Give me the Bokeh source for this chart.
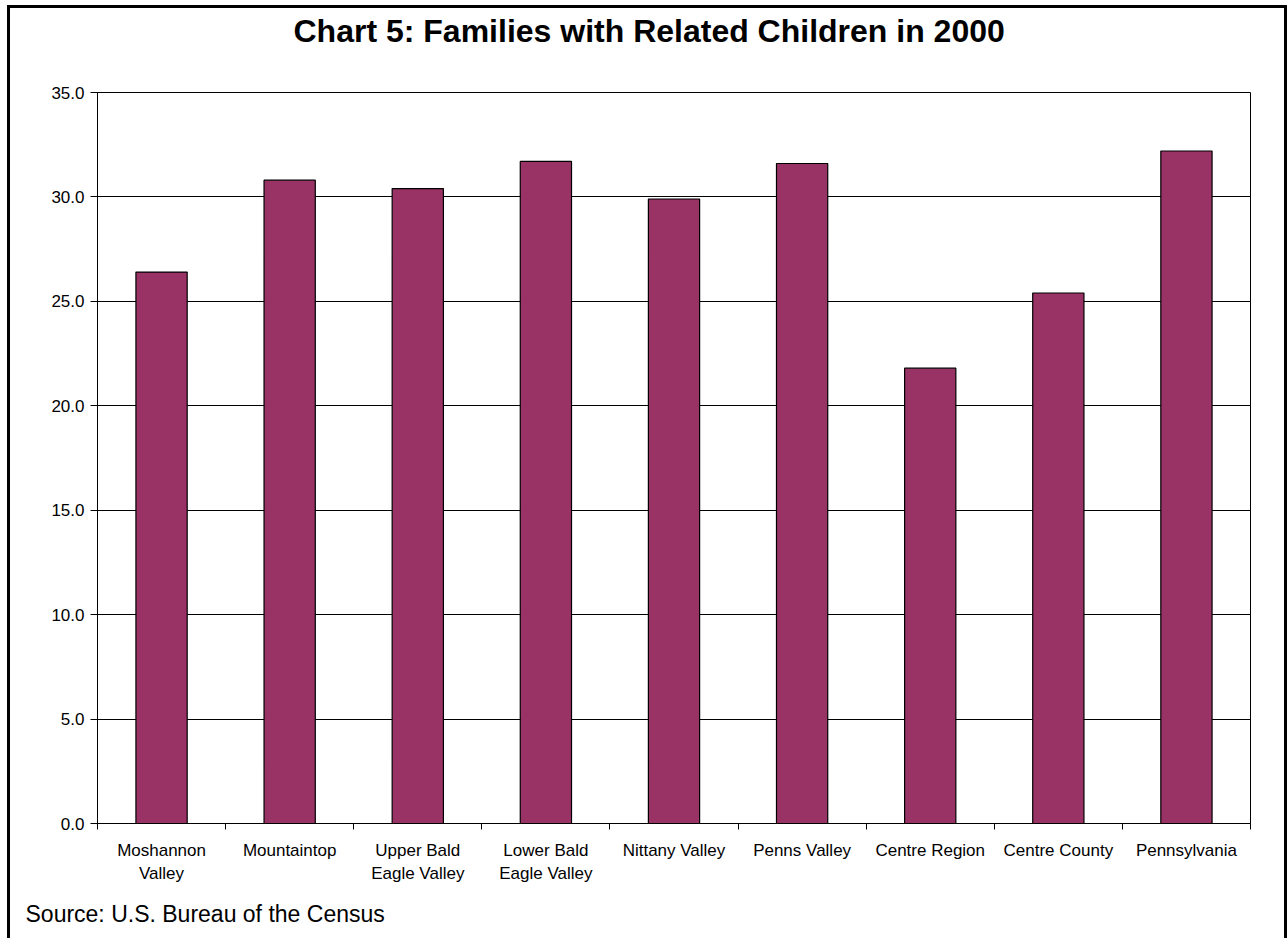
from bokeh.plotting import figure
from bokeh.models import Range1d, FixedTicker, NumeralTickFormatter, Title
from bokeh.embed import file_html
from bokeh.resources import INLINE

categories = ["Moshannon\nValley", "Mountaintop", "Upper Bald\nEagle Valley",
              "Lower Bald\nEagle Valley", "Nittany Valley", "Penns Valley",
              "Centre Region", "Centre County", "Pennsylvania"]
values = [26.4, 30.8, 30.4, 31.7, 29.9, 31.6, 21.8, 25.4, 32.2]
y_ticks = [0, 5, 10, 15, 20, 25, 30, 35]
title_text = "Chart 5: Families with Related Children in 2000"
source_text = "Source: U.S. Bureau of the Census"

FONT = "Liberation Sans"
n = len(categories)
xs = [i + 0.5 for i in range(n)]

p = figure(width=1288, height=938, output_backend="svg", toolbar_location=None,
           x_range=Range1d(0, n), y_range=Range1d(0, 35),
           min_border_left=97, min_border_right=38, min_border_top=92,
           min_border_bottom=115)
p.background_fill_color = "white"
p.border_fill_color = None
p.outline_line_color = "black"
p.outline_line_width = 1
# outer chart border (drawn by CSS inset shadows behind the transparent margins)
p.styles = {
    "background-color": "white",
    "box-shadow": ("inset 7px 0 0 0 white, inset 0 5px 0 0 white, "
                   "inset -1px 0 0 0 white, "
                   "inset 10px 0 0 0 black, inset 0 8px 0 0 black, "
                   "inset -4px 0 0 0 black"),
}

p.vbar(x=xs, top=values, bottom=0, width=0.4, fill_color="#993366",
       line_color="black", line_width=1.2)

# x axis
xa = p.xaxis[0]
xa.ticker = FixedTicker(ticks=xs, minor_ticks=list(range(n + 1)))
xa.major_label_overrides = {x: c for x, c in zip(xs, categories)}
xa.major_tick_out = 0
xa.major_tick_in = 0
xa.minor_tick_out = 6
xa.minor_tick_in = 0
xa.minor_tick_line_color = "black"
xa.axis_line_color = "black"
xa.major_label_standoff = 11
xa.major_label_text_font = FONT
xa.major_label_text_font_size = "17px"
xa.major_label_text_line_height = 1.25
xa.major_label_text_color = "black"
xa.major_label_orientation = "horizontal"

# y axis
ya = p.yaxis[0]
ya.ticker = FixedTicker(ticks=y_ticks)
ya.formatter = NumeralTickFormatter(format="0.0")
ya.major_tick_out = 7
ya.major_tick_in = 0
ya.minor_tick_line_color = None
ya.axis_line_color = "black"
ya.major_tick_line_color = "black"
ya.major_label_standoff = 6
ya.major_label_text_font = FONT
ya.major_label_text_font_size = "17px"
ya.major_label_text_color = "black"

p.xgrid.visible = False
p.ygrid.ticker = FixedTicker(ticks=y_ticks)
p.ygrid.grid_line_color = "black"
p.ygrid.grid_line_width = 1

# spacer between frame and title
spacer = Title(text=" ", text_font=FONT, text_font_size="10px", standoff=31)
p.add_layout(spacer, "above")

# title
p.title.text = title_text
p.title.text_font = FONT
p.title.text_font_size = "32px"
p.title.text_font_style = "bold"
p.title.text_color = "black"
p.title.align = "left"
p.title.offset = 196
p.title.standoff = 0

src = Title(text=source_text, text_font=FONT, text_font_size="23px",
            text_font_style="normal", text_color="black", align="left",
            offset=-72, standoff=24)
p.add_layout(src, "below")

open("out.html", "w").write(file_html(p, INLINE))
